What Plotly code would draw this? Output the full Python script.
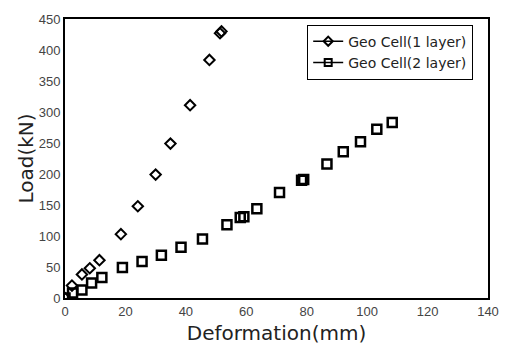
import plotly.graph_objects as go

# Geo Cell (1 layer)
x1 = [0, 2.3, 5.6, 8.2, 11.4, 18.5, 24.1, 30.0, 34.9, 41.4, 47.8, 51.3, 51.8]
y1 = [0, 20, 38, 48, 61, 103, 148, 199, 249, 311, 384, 427, 430]
# Geo Cell (2 layer)
x2 = [0, 2.5, 5.6, 8.8, 12.2, 19.0, 25.5, 31.9, 38.4, 45.5, 53.6, 58.0, 59.2, 63.5,
      71.0, 78.3, 79.0, 86.7, 92.1, 97.8, 103.2, 108.3]
y2 = [0, 8, 13, 24, 33, 49, 59, 69, 82, 95, 118, 130, 131, 144,
      170, 190, 191, 216, 236, 252, 272, 283]

names = ["Geo Cell(1 layer)", "Geo Cell(2 layer)"]
xticks = [0, 20, 40, 60, 80, 100, 120, 140]
yticks = [0, 50, 100, 150, 200, 250, 300, 350, 400, 450]

fig = go.Figure()
fig.add_trace(go.Scatter(x=x1, y=y1, mode="markers", showlegend=False,
                         marker=dict(symbol="diamond-open", size=8, color="black",
                                     line=dict(width=2, color="black"))))
fig.add_trace(go.Scatter(x=x2, y=y2, mode="markers", showlegend=False,
                         marker=dict(symbol="square-open", size=9, color="black",
                                     line=dict(width=2.5, color="black"))))
# legend entries (line + marker, as in the original legend)
fig.add_trace(go.Scatter(x=[None], y=[None], mode="lines+markers", name=names[0],
                         line=dict(color="black", width=1.5),
                         marker=dict(symbol="diamond-open", size=7, color="black",
                                     line=dict(width=2, color="black"))))
fig.add_trace(go.Scatter(x=[None], y=[None], mode="lines+markers", name=names[1],
                         line=dict(color="black", width=1.5),
                         marker=dict(symbol="square-open", size=7, color="black",
                                     line=dict(width=2, color="black"))))

axis_common = dict(showgrid=False, zeroline=False, showline=True, linecolor="black",
                   linewidth=2, mirror=True, ticks="", color="#444",
                   tickfont=dict(family="Liberation Sans, Arial", size=13, color="#444"))
fig.update_xaxes(range=[0, 140], tickvals=xticks, **axis_common,
                 title=dict(text="Deformation(mm)", standoff=8,
                            font=dict(family="DejaVu Sans", size=20, color="#222")))
fig.update_yaxes(range=[0, 450], tickvals=yticks, **axis_common,
                 title=dict(text="Load(kN)", standoff=0,
                            font=dict(family="DejaVu Sans", size=20, color="#222")))

fig.update_layout(
    width=511, height=353,
    margin=dict(l=65, r=13, t=17, b=53),
    paper_bgcolor="white", plot_bgcolor="white",
    legend=dict(x=0.965, y=0.98, xanchor="right", yanchor="top",
                bordercolor="black", borderwidth=1, bgcolor="white",
                font=dict(family="DejaVu Sans", size=14, color="#222"),
                tracegroupgap=0),
)

fig.write_html("out.html")
